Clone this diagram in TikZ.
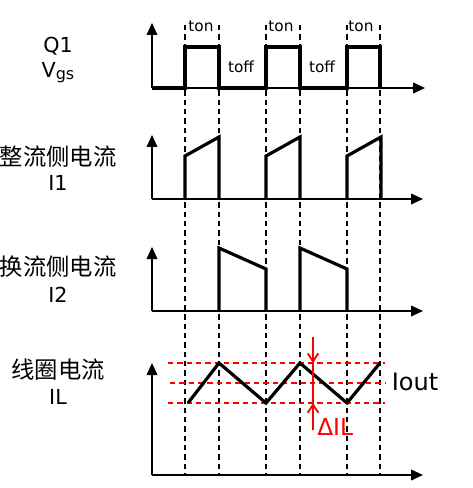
\documentclass[tikz,border=0pt]{standalone}
\usepackage{fontspec}
\setmainfont{DejaVu Sans}
\newfontfamily\cjk{Noto Sans CJK SC}
\usetikzlibrary{arrows.meta}

\begin{document}
\begin{tikzpicture}[x=0.75pt, y=-0.75pt,
  axis/.style={line width=1.3pt, -{Triangle[length=9pt,width=8pt]}},
  wave/.style={line width=2.4pt, line join=miter},
  guide/.style={line width=0.9pt, dash pattern=on 4pt off 3pt},
  band/.style={draw=red, line width=1pt, dash pattern=on 4pt off 3pt},
  ripple/.style={draw=red, line width=1.4pt},
  lbl/.style={font=\fontsize{15.5}{18}\selectfont, inner sep=0pt},
  cjklbl/.style={font=\cjk\fontsize{17.5}{20}\selectfont, inner sep=0pt},
  tlbl/.style={font=\fontsize{11.5}{13}\selectfont, inner sep=0pt}]

\useasboundingbox (0,0) rectangle (472,488);

% switching instants
\foreach \x in {185,219,266,300,347,380}
  \draw[guide] (\x,25) -- (\x,475);

% axes
\draw[axis] (152,88) -- (152,23);
\draw[axis] (152,88) -- (425,88);
\draw[axis] (152,199) -- (152,135);
\draw[axis] (152,199) -- (423,199);
\draw[axis] (152,311) -- (152,247);
\draw[axis] (152,311) -- (423,311);
\draw[axis] (152,475) -- (152,363);
\draw[axis] (152,475) -- (423,475);

% Q1 gate drive
\draw[wave] (152,88) -- (185,88) -- (185,47) -- (219,47) -- (219,88)
  -- (266,88) -- (266,47) -- (300,47) -- (300,88)
  -- (347,88) -- (347,47) -- (380,47) -- (380,88);

% I1 and I2
\foreach \x in {185,266,347}
  \draw[wave] (\x,199) -- (\x,156) -- (\x+34,137) -- (\x+34,199);
\foreach \x in {219,300}
  \draw[wave] (\x,311) -- (\x,248) -- (\x+47,269) -- (\x+47,311);

% IL ripple
\draw[band] (168,363) -- (385,363);
\draw[band] (170,383) -- (385,383);
\draw[band] (168,403) -- (385,403);
\draw[wave] (188,403) -- (219,363) -- (266,403) -- (300,363) -- (347,403) -- (380,363);

\coordinate (dtop) at (313,337);
\coordinate (dhi) at (313,363);
\coordinate (dlo) at (313,403);
\coordinate (dbot) at (313,430);
\draw[ripple] (dtop) -- (dbot);
\draw[ripple, -{Straight Barb[length=6pt,width=8pt]}] (dtop) -- (dhi);
\draw[ripple, -{Straight Barb[length=6pt,width=8pt]}] (dbot) -- (dlo);

% labels
\node[lbl] (q1) at (58,46) {Q1};
\node[lbl] (vgs) at (58,73) {V\raisebox{-0.2ex}{\fontsize{12}{14}\selectfont gs}};
\node[cjklbl] (i1name) at (58,157) {整流侧电流};
\node[lbl] (i1) at (58,183) {I1};
\node[cjklbl] (i2name) at (58,267) {换流侧电流};
\node[lbl] (i2) at (58,295) {I2};
\node[cjklbl] (ilname) at (58,370) {线圈电流};
\node[lbl] (il) at (58,397) {IL};

\node[tlbl] (ton1) at (201,26) {ton};
\node[tlbl] (ton2) at (281,26) {ton};
\node[tlbl] (ton3) at (361,26) {ton};
\node[tlbl] (toff1) at (241,67) {toff};
\node[tlbl] (toff2) at (322,67) {toff};

\node[lbl, font=\fontsize{18}{21}\selectfont] (iout) at (415,382) {Iout};
\node[lbl, text=red, anchor=west, font=\fontsize{17.5}{20}\selectfont] (dil) at (317,427) {ΔIL};

\end{tikzpicture}
\end{document}
